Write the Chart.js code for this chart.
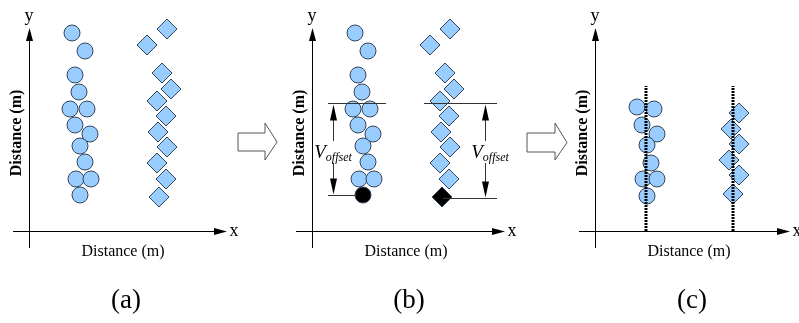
<!DOCTYPE html>
<html>
<head>
<meta charset="utf-8">
<script src="https://cdn.jsdelivr.net/npm/chart.js@4"></script>
<style>
  body { margin: 0; background: #fff; }
  #wrap { position: relative; width: 799px; height: 323px; }
  #wrap canvas { position: absolute; left: 0; top: 0; }
</style>
</head>
<body>
<div id="wrap">
  <canvas id="panelA" width="799" height="323"></canvas>
  <canvas id="panelB" width="799" height="323"></canvas>
  <canvas id="panelC" width="799" height="323"></canvas>
</div>
<script>
// raw readings, panels (a) and (b): x from the y-axis, y up from the x-axis
const rawCircleX = [43, 56, 46, 50, 41, 58, 46, 61, 51, 56, 47, 62, 51];
const rawCircleY = [198, 180, 156, 139, 122, 122, 106, 97, 85, 69, 52, 52, 36];
const rawDiamondX = [138, 118, 133, 142, 128, 137, 129, 138, 128, 137, 130];
const rawDiamondY = [202, 186, 158, 142, 130, 115, 99, 84, 68, 52, 34];

// panel (c): after the vertical offset is removed
const alignedCircleX = [42, 59, 47, 62, 52, 56, 48, 62, 52];
const alignedCircleY = [124, 122, 106, 97, 86, 68, 52, 52, 35];
const alignedDiamondX = [144, 136, 144, 134, 144, 138];
const alignedDiamondY = [118, 102, 87, 71, 56, 37];
const trackX = [51, 138];
const trackY = [0, 145];

// V_offset marks in (b)
const offsetTop = 128;
const offsetBottom = [36, 33];

const captions = ['(a)', '(b)', '(c)'];

const BLUE = '#99ccff';
const EDGE = '#34455a';
const SERIF = '"Liberation Serif", "DejaVu Serif", serif';

function pts(xs, ys) {
  return xs.map((x, i) => ({ x: x, y: ys[i] }));
}

function arrowHead(ctx, x, y, dir, len, half) {
  // dir: 'up' | 'down' | 'right'
  ctx.beginPath();
  ctx.moveTo(x, y);
  if (dir === 'up') { ctx.lineTo(x - half, y + len); ctx.lineTo(x + half, y + len); }
  if (dir === 'down') { ctx.lineTo(x - half, y - len); ctx.lineTo(x + half, y - len); }
  if (dir === 'right') { ctx.lineTo(x - len, y - half); ctx.lineTo(x - len, y + half); }
  ctx.closePath();
  ctx.fill();
}

function blockArrow(ctx, px, py, x0, x1, x2, yTop, yBot, hTop, hBot) {
  const yMid = (yTop + yBot) / 2;
  ctx.save();
  ctx.strokeStyle = '#555';
  ctx.fillStyle = '#fff';
  ctx.lineWidth = 1;
  ctx.beginPath();
  ctx.moveTo(px(x0), py(yTop));
  ctx.lineTo(px(x1), py(yTop));
  ctx.lineTo(px(x1), py(hTop));
  ctx.lineTo(px(x2), py(yMid));
  ctx.lineTo(px(x1), py(hBot));
  ctx.lineTo(px(x1), py(yBot));
  ctx.lineTo(px(x0), py(yBot));
  ctx.closePath();
  ctx.fill();
  ctx.stroke();
  ctx.restore();
}

function panelPlugin(cfg) {
  return {
    id: 'panel' + cfg.caption,
    beforeDatasetsDraw(chart) {
      const ctx = chart.ctx;
      const px = v => chart.scales.x.getPixelForValue(v);
      const py = v => chart.scales.y.getPixelForValue(v);
      ctx.save();
      ctx.strokeStyle = '#000';
      ctx.fillStyle = '#000';
      ctx.lineWidth = 1;
      // y axis
      ctx.beginPath();
      ctx.moveTo(Math.round(px(0)) + 0.5, py(-17));
      ctx.lineTo(Math.round(px(0)) + 0.5, py(192));
      ctx.stroke();
      arrowHead(ctx, Math.round(px(0)) + 0.5, py(203), 'up', 13, 3.5);
      // x axis
      ctx.beginPath();
      ctx.moveTo(px(-16), Math.round(py(0)) + 0.5);
      ctx.lineTo(px(cfg.xEnd - 10), Math.round(py(0)) + 0.5);
      ctx.stroke();
      arrowHead(ctx, px(cfg.xEnd), Math.round(py(0)) + 0.5, 'right', 13, 3.5);

      // axis letters
      ctx.font = '18px ' + SERIF;
      ctx.textAlign = 'center';
      ctx.textBaseline = 'middle';
      ctx.fillText('y', px(0), py(215));
      ctx.fillText('x', px(cfg.xEnd + 7), py(0));

      // axis titles
      ctx.font = '16px ' + SERIF;
      ctx.fillText('Distance (m)', px(94), py(-21));
      ctx.save();
      ctx.translate(px(-12), py(98));
      ctx.rotate(-Math.PI / 2);
      ctx.font = 'bold 16px ' + SERIF;
      ctx.fillText('Distance (m)', 0, 0);
      ctx.restore();

      // caption
      ctx.font = '27px ' + SERIF;
      ctx.fillText(cfg.caption, px(97), py(-70));
      ctx.restore();

      if (cfg.extraBefore) cfg.extraBefore(ctx, px, py);
    },
    afterDatasetsDraw(chart) {
      const px = v => chart.scales.x.getPixelForValue(v);
      const py = v => chart.scales.y.getPixelForValue(v);
      if (cfg.extraAfter) cfg.extraAfter(chart.ctx, px, py);
    }
  };
}

function scatterSet(data, style, fill, radius) {
  return {
    type: 'scatter',
    data: data,
    pointStyle: style,
    pointRadius: radius,
    pointBackgroundColor: fill,
    pointBorderColor: EDGE,
    pointBorderWidth: 1,
    showLine: false
  };
}

function makePanel(id, originX, datasets, cfg) {
  return new Chart(document.getElementById(id), {
    type: 'scatter',
    data: { datasets: datasets },
    options: {
      responsive: false,
      animation: false,
      events: [],
      layout: { padding: 0, autoPadding: false },
      plugins: { legend: { display: false }, tooltip: { enabled: false } },
      scales: {
        x: { type: 'linear', display: false, min: -originX, max: 799 - originX },
        y: { type: 'linear', display: false, min: -92, max: 231 }
      }
    },
    plugins: [panelPlugin(cfg)]
  });
}

// (a)
makePanel('panelA', 29, [
  scatterSet(pts(rawCircleX, rawCircleY), 'circle', BLUE, 8),
  scatterSet(pts(rawDiamondX, rawDiamondY), 'rectRot', BLUE, 10)
], {
  caption: captions[0],
  xEnd: 198,
  extraBefore(ctx, px, py) {
    blockArrow(ctx, px, py, 209, 236, 248, 98, 80, 108, 71);
  }
});

// (b): the lowest reading of each group is the reference, drawn black
const bCircleFill = rawCircleX.map((v, i) => i === rawCircleX.length - 1 ? '#000' : BLUE);
const bDiamondFill = rawDiamondX.map((v, i) => i === rawDiamondX.length - 1 ? '#000' : BLUE);
makePanel('panelB', 312, [
  scatterSet(pts(rawCircleX, rawCircleY), 'circle', bCircleFill, 8),
  scatterSet(pts(rawDiamondX, rawDiamondY), 'rectRot', bDiamondFill, 10)
], {
  caption: captions[1],
  xEnd: 193,
  extraAfter(ctx, px, py) {
    const marks = [
      { l0: 16, l1: 74, b0: 16, b1: 43, arrow: 21, bot: offsetBottom[0], text: 21 },
      { l0: 112, l1: 185, b0: 131, b1: 185, arrow: 173, bot: offsetBottom[1], text: 178 }
    ];
    marks.forEach(m => {
      ctx.save();
      ctx.strokeStyle = '#333';
      ctx.fillStyle = '#000';
      ctx.lineWidth = 1;
      const yT = Math.round(py(offsetTop)) + 0.5;
      const yB = Math.round(py(m.bot)) + 0.5;
      const xa = Math.round(px(m.arrow)) + 0.5;
      ctx.beginPath();
      ctx.moveTo(px(m.l0), yT); ctx.lineTo(px(m.l1), yT);
      ctx.moveTo(px(m.b0), yB); ctx.lineTo(px(m.b1), yB);
      ctx.moveTo(xa, yT + 14); ctx.lineTo(xa, yB - 14);
      ctx.stroke();
      arrowHead(ctx, xa, yT + 1, 'up', 16, 3.5);
      arrowHead(ctx, xa, yB - 1, 'down', 16, 3.5);
      // label with white backing
      ctx.font = 'italic 19px ' + SERIF;
      const vW = ctx.measureText('V').width;
      ctx.font = 'italic 12px ' + SERIF;
      const sW = ctx.measureText('offset').width;
      const total = vW + sW;
      const cx = px(m.text);
      const cy = py(79);
      ctx.fillStyle = '#fff';
      ctx.fillRect(cx - total / 2 - 1, cy - 11, total + 2, 22);
      ctx.fillStyle = '#000';
      ctx.textBaseline = 'alphabetic';
      ctx.textAlign = 'left';
      ctx.font = 'italic 19px ' + SERIF;
      ctx.fillText('V', cx - total / 2, cy + 6);
      ctx.font = 'italic 12px ' + SERIF;
      ctx.fillText('offset', cx - total / 2 + vW, cy + 9);
      ctx.restore();
    });
  }
});

// (c): offset removed, readings line up on the tracks
const trackSets = trackX.map(x => ({
  type: 'line',
  data: pts([x, x], trackY),
  borderColor: '#000',
  borderWidth: 3,
  borderDash: [2, 1],
  pointRadius: 0,
  fill: false,
  order: 0
}));
const cCircles = scatterSet(pts(alignedCircleX, alignedCircleY), 'circle', BLUE, 8);
const cDiamonds = scatterSet(pts(alignedDiamondX, alignedDiamondY), 'rectRot', BLUE, 10);
cCircles.order = 1;
cDiamonds.order = 1;
makePanel('panelC', 595, [cCircles, cDiamonds].concat(trackSets), {
  caption: captions[2],
  xEnd: 195,
  extraBefore(ctx, px, py) {
    blockArrow(ctx, px, py, -68, -40, -28, 98, 79, 108, 71);
  }
});
</script>
</body>
</html>
